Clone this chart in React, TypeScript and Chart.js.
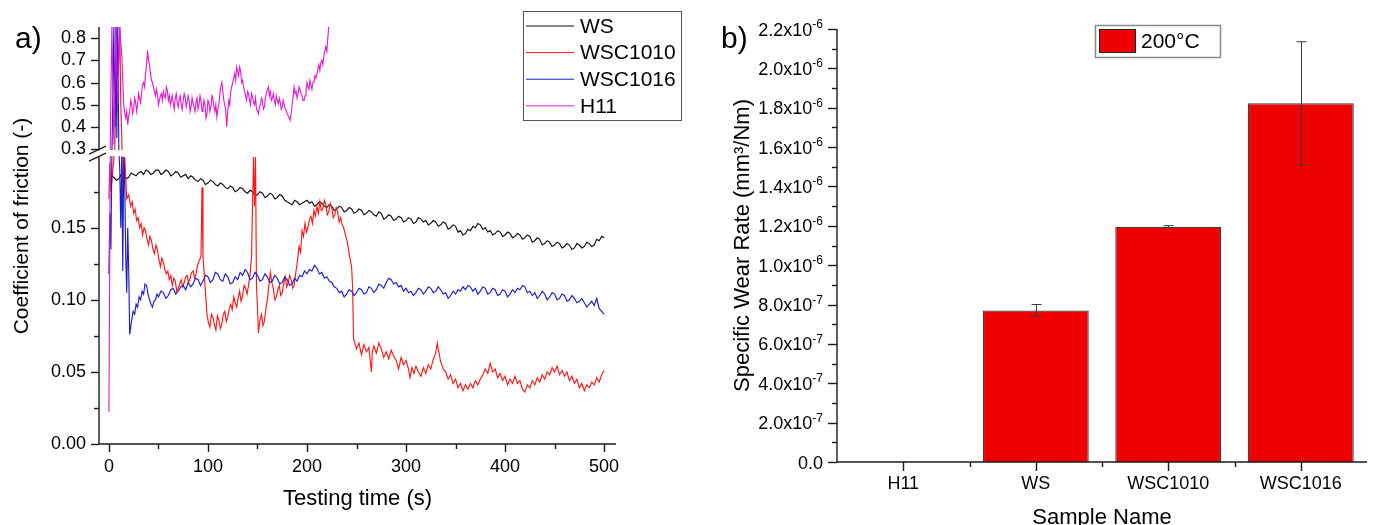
import React, { useEffect, useRef } from 'react';
import { Chart, LinearScale, registerables } from 'chart.js';

Chart.register(...registerables);

const FONT = '"Liberation Sans", Arial, sans-serif';

// ---------- Left chart data: [testing time (s), coefficient of friction] ----------
const WS: [number, number][] = [[0,0.183],[2.5,0.186],[5,0.185],[7.5,0.183],[10,0.184],[12.5,0.187],[15,0.186],[17.5,0.184],[20,0.185],[22.5,0.188],[25,0.187],[27.5,0.186],[30,0.188],[32.5,0.189],[35,0.187],[37.5,0.19],[40,0.189],[42.5,0.187],[45,0.188],[47.5,0.19],[50,0.19],[52.5,0.187],[55,0.188],[57.5,0.19],[60,0.189],[62.5,0.186],[65,0.187],[67.5,0.189],[70,0.188],[72.5,0.185],[75,0.186],[77.5,0.187],[80,0.184],[82.5,0.186],[85,0.185],[87.5,0.183],[90,0.182],[92.5,0.184],[95,0.183],[97.5,0.18],[100,0.181],[102.5,0.183],[105,0.182],[107.5,0.18],[110,0.179],[112.5,0.181],[115,0.18],[117.5,0.178],[120,0.177],[122.5,0.179],[125,0.178],[127.5,0.175],[130,0.176],[132.5,0.178],[135,0.177],[137.5,0.175],[140,0.174],[142.5,0.176],[145,0.175],[147.5,0.172],[150,0.173],[152.5,0.175],[155,0.174],[157.5,0.171],[160,0.172],[162.5,0.174],[165,0.173],[167.5,0.17],[170,0.171],[172.5,0.173],[175,0.172],[177.5,0.169],[180,0.168],[182.5,0.167],[185,0.166],[187.5,0.169],[190,0.168],[192.5,0.166],[195,0.167],[197.5,0.168],[200,0.169],[202.5,0.167],[205,0.168],[207.5,0.165],[210,0.166],[212.5,0.168],[215,0.167],[217.5,0.165],[220,0.164],[222.5,0.166],[225,0.165],[227.5,0.162],[230,0.163],[232.5,0.165],[235,0.164],[237.5,0.161],[240,0.162],[242.5,0.164],[245,0.163],[247.5,0.16],[250,0.161],[252.5,0.163],[255,0.162],[257.5,0.159],[260,0.16],[262.5,0.162],[265,0.161],[267.5,0.159],[270,0.158],[272.5,0.161],[275,0.16],[277.5,0.156],[280,0.157],[282.5,0.159],[285,0.158],[287.5,0.155],[290,0.156],[292.5,0.158],[295,0.157],[297.5,0.154],[300,0.155],[302.5,0.157],[305,0.156],[307.5,0.153],[310,0.154],[312.5,0.157],[315,0.156],[317.5,0.154],[320,0.155],[322.5,0.152],[325,0.153],[327.5,0.155],[330,0.154],[332.5,0.151],[335,0.152],[337.5,0.154],[340,0.153],[342.5,0.149],[345,0.15],[347.5,0.152],[350,0.151],[352.5,0.147],[355,0.148],[357.5,0.145],[360,0.146],[362.5,0.149],[365,0.148],[367.5,0.151],[370,0.15],[372.5,0.153],[375,0.152],[377.5,0.149],[380,0.15],[382.5,0.147],[385,0.148],[387.5,0.145],[390,0.146],[392.5,0.148],[395,0.147],[397.5,0.144],[400,0.145],[402.5,0.147],[405,0.146],[407.5,0.143],[410,0.144],[412.5,0.146],[415,0.145],[417.5,0.142],[420,0.143],[422.5,0.145],[425,0.144],[427.5,0.14],[430,0.141],[432.5,0.143],[435,0.142],[437.5,0.138],[440,0.139],[442.5,0.141],[445,0.14],[447.5,0.137],[450,0.138],[452.5,0.14],[455,0.139],[457.5,0.136],[460,0.137],[462.5,0.139],[465,0.138],[467.5,0.135],[470,0.136],[472.5,0.139],[475,0.138],[477.5,0.136],[480,0.137],[482.5,0.14],[485,0.139],[487.5,0.137],[490,0.138],[492.5,0.142],[495,0.141],[497.5,0.144],[500,0.143]];

const WSC1010: [number, number][] = [[0,0.17],[1,0.195],[2,0.175],[4,0.19],[6,0.3],[8,0.85],[9,0.6],[11,0.85],[12,0.5],[13,0.35],[14,0.17],[16,0.199],[18,0.17],[20,0.173],[22,0.165],[23.5,0.168],[25,0.16],[26.5,0.163],[28,0.155],[29.5,0.157],[31,0.15],[32.5,0.153],[34,0.145],[35.5,0.15],[37,0.148],[38.5,0.142],[40,0.138],[41.5,0.144],[43,0.141],[44.5,0.135],[46,0.132],[47.5,0.138],[49,0.135],[50.5,0.128],[52,0.123],[53.5,0.129],[55,0.126],[56.5,0.121],[58,0.118],[59.5,0.12],[61,0.114],[62.5,0.117],[64,0.11],[65.5,0.115],[67,0.113],[68.5,0.106],[70,0.108],[71.5,0.111],[73,0.114],[74.5,0.109],[76,0.112],[77.5,0.116],[79,0.117],[80.5,0.112],[82,0.115],[83.5,0.119],[85,0.12],[86.5,0.115],[88,0.118],[89.5,0.124],[91,0.127],[93,0.13],[94,0.178],[95,0.13],[97,0.11],[99,0.09],[100.5,0.084],[102,0.081],[103.5,0.09],[105,0.088],[106.5,0.083],[108,0.079],[109.5,0.089],[111,0.086],[112.5,0.08],[114,0.083],[115.5,0.09],[117,0.092],[118.5,0.085],[120,0.088],[121.5,0.094],[123,0.097],[124.5,0.093],[126,0.102],[127.5,0.098],[129,0.095],[130.5,0.101],[132,0.106],[133.5,0.099],[135,0.103],[136.5,0.11],[138,0.108],[139.5,0.104],[141,0.11],[142.5,0.118],[144,0.13],[146,0.199],[147,0.165],[148,0.199],[149,0.11],[151,0.077],[152.5,0.086],[154,0.09],[155.5,0.082],[157,0.085],[158.5,0.094],[160,0.1],[161.5,0.11],[163,0.119],[164.5,0.112],[166,0.108],[167.5,0.1],[169,0.102],[170.5,0.107],[172,0.11],[173.5,0.103],[175,0.105],[176.5,0.111],[178,0.116],[179.5,0.109],[181,0.112],[182.5,0.117],[184,0.114],[185.5,0.108],[187,0.11],[188.5,0.118],[190,0.125],[192,0.137],[193.5,0.133],[195,0.148],[196.5,0.144],[198,0.153],[199.5,0.147],[201,0.15],[202.5,0.156],[204,0.158],[205.5,0.153],[207,0.162],[208.5,0.158],[210,0.165],[211.5,0.16],[213,0.168],[214.5,0.162],[216,0.163],[217.5,0.169],[219,0.166],[220.5,0.159],[222,0.161],[223.5,0.167],[225,0.164],[226.5,0.157],[228,0.159],[229.5,0.164],[231,0.161],[232.5,0.154],[234,0.157],[235.5,0.152],[237,0.15],[238.5,0.146],[240,0.142],[241.5,0.137],[243,0.13],[245,0.123],[246,0.11],[247,0.073],[250,0.066],[252.5,0.07],[255,0.062],[257.5,0.069],[260,0.064],[262.5,0.067],[265,0.05],[266,0.064],[267.5,0.068],[270,0.063],[272.5,0.07],[275,0.066],[277.5,0.06],[280,0.064],[282.5,0.059],[285,0.065],[287.5,0.061],[290,0.058],[292.5,0.052],[295,0.06],[297.5,0.055],[300,0.058],[302.5,0.052],[304,0.046],[306,0.053],[308,0.049],[310,0.054],[312.5,0.05],[315,0.047],[317.5,0.053],[320,0.049],[322.5,0.055],[325,0.052],[327.5,0.059],[330,0.063],[331.5,0.07],[333,0.064],[335,0.057],[337.5,0.052],[340,0.05],[342.5,0.045],[345,0.048],[347.5,0.042],[350,0.045],[352.5,0.039],[355,0.042],[357.5,0.037],[360,0.041],[362.5,0.038],[365,0.042],[367.5,0.039],[370,0.044],[372.5,0.041],[375,0.045],[377.5,0.048],[380,0.052],[382.5,0.049],[385,0.056],[387.5,0.05],[390,0.052],[392.5,0.046],[395,0.049],[397.5,0.044],[400,0.047],[402.5,0.041],[405,0.045],[407.5,0.042],[410,0.047],[412.5,0.042],[415,0.044],[417.5,0.038],[420,0.036],[422.5,0.041],[425,0.039],[427.5,0.044],[430,0.041],[432.5,0.046],[435,0.043],[437.5,0.048],[440,0.045],[442.5,0.05],[445,0.048],[447.5,0.053],[450,0.05],[452.5,0.054],[455,0.048],[457.5,0.051],[460,0.047],[462.5,0.05],[465,0.044],[467.5,0.047],[470,0.042],[472.5,0.045],[475,0.039],[477.5,0.042],[480,0.037],[482.5,0.041],[485,0.039],[487.5,0.043],[490,0.041],[492.5,0.046],[495,0.043],[497.5,0.048],[500,0.051]];

const WSC1016: [number, number][] = [[0,0.118],[1,0.16],[2,0.135],[3,0.199],[5,0.85],[6,0.4],[7,0.85],[8,0.35],[9,0.85],[10,0.3],[11,0.19],[12,0.15],[13,0.199],[14,0.12],[15,0.199],[16,0.18],[17,0.13],[18,0.105],[19,0.15],[20,0.12],[21,0.076],[23,0.086],[24.5,0.092],[26,0.09],[27.5,0.097],[29,0.095],[30.5,0.102],[32,0.1],[33.5,0.106],[35,0.104],[36.5,0.111],[38,0.11],[39.5,0.104],[41,0.1],[42.5,0.097],[44,0.095],[45.5,0.099],[47,0.1],[48.5,0.104],[50,0.102],[52.5,0.106],[55,0.105],[57.5,0.101],[60,0.103],[62.5,0.107],[65,0.108],[67.5,0.104],[70,0.106],[72.5,0.109],[75,0.11],[77.5,0.107],[80,0.112],[82.5,0.109],[85,0.111],[87.5,0.115],[90,0.114],[92.5,0.11],[95,0.113],[97.5,0.117],[100,0.116],[102.5,0.112],[105,0.114],[107.5,0.119],[110,0.118],[112.5,0.114],[115,0.113],[117.5,0.118],[120,0.116],[122.5,0.111],[125,0.112],[127.5,0.116],[130,0.114],[132.5,0.119],[135,0.117],[137.5,0.121],[140,0.119],[142.5,0.114],[145,0.115],[147.5,0.119],[150,0.117],[152.5,0.113],[155,0.114],[157.5,0.118],[160,0.116],[162.5,0.112],[165,0.113],[167.5,0.117],[170,0.115],[172.5,0.111],[175,0.112],[177.5,0.116],[180,0.114],[182.5,0.11],[185,0.111],[187.5,0.115],[190,0.113],[192.5,0.117],[195,0.116],[197.5,0.12],[200,0.118],[202.5,0.121],[205,0.12],[207.5,0.124],[210,0.122],[212.5,0.118],[215,0.119],[217.5,0.115],[220,0.116],[222.5,0.113],[225,0.112],[227.5,0.109],[230,0.108],[232.5,0.105],[235,0.106],[237.5,0.102],[240,0.104],[242.5,0.107],[245,0.106],[247.5,0.103],[250,0.105],[252.5,0.108],[255,0.107],[257.5,0.104],[260,0.105],[262.5,0.109],[265,0.108],[267.5,0.105],[270,0.107],[272.5,0.111],[275,0.11],[277.5,0.108],[280,0.112],[282.5,0.115],[285,0.114],[287.5,0.111],[290,0.112],[292.5,0.109],[295,0.11],[297.5,0.106],[300,0.108],[302.5,0.105],[305,0.106],[307.5,0.103],[310,0.105],[312.5,0.108],[315,0.107],[317.5,0.104],[320,0.106],[322.5,0.109],[325,0.108],[327.5,0.105],[330,0.106],[332.5,0.109],[335,0.107],[337.5,0.104],[340,0.105],[342.5,0.101],[345,0.103],[347.5,0.106],[350,0.104],[352.5,0.107],[355,0.106],[357.5,0.109],[360,0.107],[362.5,0.11],[365,0.109],[367.5,0.106],[370,0.108],[372.5,0.104],[375,0.106],[377.5,0.109],[380,0.108],[382.5,0.104],[385,0.105],[387.5,0.108],[390,0.107],[392.5,0.103],[395,0.104],[397.5,0.107],[400,0.106],[402.5,0.102],[405,0.104],[407.5,0.107],[410,0.105],[412.5,0.108],[415,0.107],[417.5,0.11],[420,0.109],[422.5,0.105],[425,0.106],[427.5,0.103],[430,0.105],[432.5,0.101],[435,0.103],[437.5,0.106],[440,0.104],[442.5,0.1],[445,0.102],[447.5,0.105],[450,0.104],[452.5,0.1],[455,0.101],[457.5,0.104],[460,0.103],[462.5,0.099],[465,0.1],[467.5,0.103],[470,0.101],[472.5,0.098],[475,0.099],[477.5,0.101],[480,0.098],[482.5,0.095],[485,0.097],[487.5,0.099],[490,0.096],[492.5,0.101],[495,0.094],[497.5,0.092],[500,0.09]];

const H11: [number, number][] = [[0,0.022],[1.5,0.4],[3,0.85],[5,0.32],[7,0.85],[9,0.5],[11,0.85],[13,0.72],[15,0.5],[16,0.46],[17,0.44],[18,0.47],[19,0.41],[20,0.45],[21,0.47],[22,0.52],[23,0.5],[24,0.46],[25,0.48],[26,0.53],[27,0.51],[28,0.47],[29,0.5],[30,0.55],[31,0.53],[32,0.51],[33,0.55],[34,0.59],[35,0.6],[36,0.58],[37,0.64],[38,0.68],[39,0.745],[40,0.7],[41,0.68],[42,0.64],[43,0.61],[44,0.6],[45,0.58],[46,0.56],[47,0.54],[48,0.57],[49,0.545],[50,0.5],[51,0.52],[52,0.54],[53,0.55],[54,0.52],[55,0.56],[56,0.54],[57,0.53],[58,0.58],[59,0.565],[60,0.52],[61,0.54],[62,0.5],[63,0.52],[64,0.54],[65,0.505],[66,0.48],[67,0.53],[68,0.55],[69,0.51],[70,0.49],[71,0.525],[72,0.54],[73,0.5],[74,0.48],[75,0.52],[76,0.55],[77,0.535],[78,0.49],[79,0.51],[80,0.54],[81,0.52],[82,0.47],[83,0.49],[84,0.53],[85,0.505],[86,0.49],[87,0.47],[88,0.51],[89,0.53],[90,0.48],[91,0.5],[92,0.54],[93,0.52],[94,0.47],[95,0.48],[96,0.52],[97,0.5],[98,0.44],[99,0.46],[100,0.52],[101,0.51],[102,0.47],[103,0.49],[104,0.54],[105,0.53],[106,0.49],[107,0.47],[108,0.5],[109,0.445],[110,0.48],[111,0.5],[112,0.55],[113,0.58],[114,0.6],[115,0.56],[116,0.52],[117,0.5],[118,0.47],[119,0.4],[120,0.47],[121,0.52],[122,0.5],[123,0.56],[124,0.58],[125,0.6],[126,0.62],[127,0.64],[128,0.61],[129,0.67],[130,0.65],[131,0.63],[132,0.67],[133,0.65],[134,0.6],[135,0.61],[136,0.58],[137,0.56],[138,0.54],[139,0.52],[140,0.56],[141,0.55],[142,0.52],[143,0.5],[144,0.55],[145,0.535],[146,0.51],[147,0.5],[148,0.53],[149,0.48],[150,0.47],[151,0.46],[152,0.49],[153,0.5],[154,0.53],[155,0.52],[156,0.48],[157,0.49],[158,0.53],[159,0.55],[160,0.57],[161,0.58],[162,0.54],[163,0.56],[164,0.52],[165,0.53],[166,0.55],[167,0.52],[168,0.5],[169,0.54],[170,0.52],[171,0.505],[172,0.53],[173,0.51],[174,0.48],[175,0.49],[176,0.52],[177,0.5],[178,0.48],[179,0.475],[180,0.46],[181,0.45],[182,0.44],[183,0.43],[184,0.46],[185,0.5],[186,0.54],[187,0.58],[188,0.55],[189,0.56],[190,0.53],[191,0.55],[192,0.58],[193,0.57],[194,0.55],[195,0.54],[196,0.52],[197,0.52],[198,0.54],[199,0.56],[200,0.6],[201,0.58],[202,0.57],[203,0.61],[204,0.59],[205,0.57],[206,0.6],[207,0.6],[208,0.63],[209,0.62],[210,0.64],[211,0.66],[212,0.68],[213,0.655],[214,0.69],[215,0.7],[216,0.68],[217,0.72],[218,0.74],[219,0.76],[220,0.74],[221,0.8],[222,0.85]];

const SERIES_LABELS = ['WS', 'WSC1010', 'WSC1016', 'H11'];
const SERIES_COLORS = ['#111111', '#ff1a1a', '#1c1ccc', '#e020d0'];
const SERIES_DATA = [WS, WSC1010, WSC1016, H11];

const X_TICKS = [0, 100, 200, 300, 400, 500];
const X_MINOR = [50, 150, 250, 350, 450];
const LEFT_Y_TICKS = [0, 0.05, 0.1, 0.15, 0.3, 0.4, 0.5, 0.6, 0.7, 0.8];
const LEFT_Y_MINOR = [0.025, 0.075, 0.125, 0.175];

// broken axis definition
const LOW_MAX = 0.199;
const HIGH_MIN = 0.3;
const Y_MAX = 0.85;
const LOW_FRAC = 0.688;
const GAP_FRAC = 0.019;

// ---------- Right chart data ----------
const CATEGORIES = ['H11', 'WS', 'WSC1010', 'WSC1016'];
const WEAR_RATE = [0, 7.7e-7, 1.195e-6, 1.8225e-6];
const WEAR_ERR = [0, 3.0e-8, 6e-9, 3.125e-7];
const RIGHT_Y_TICKS = [0, 2e-7, 4e-7, 6e-7, 8e-7, 1e-6, 1.2e-6, 1.4e-6, 1.6e-6, 1.8e-6, 2e-6, 2.2e-6];
const RIGHT_Y_MANT = ['0.0', '2.0', '4.0', '6.0', '8.0', '1.0', '1.2', '1.4', '1.6', '1.8', '2.0', '2.2'];
const RIGHT_Y_EXP = ['', '-7', '-7', '-7', '-7', '-6', '-6', '-6', '-6', '-6', '-6', '-6'];
const RIGHT_Y_MINOR = [1e-7, 3e-7, 5e-7, 7e-7, 9e-7, 1.1e-6, 1.3e-6, 1.5e-6, 1.7e-6, 1.9e-6, 2.1e-6];
const BAR_LABEL = '200°C';

class BrokenLinearScale extends LinearScale {
  static id = 'brokenLinear';
  static defaults = LinearScale.defaults;
  buildTicks() {
    return LEFT_Y_TICKS.map((v) => ({ value: v }));
  }
  _brk() {
    const b = this.bottom;
    const t = this.top;
    const h = b - t;
    const lowTop = b - h * LOW_FRAC;
    const highBot = lowTop - h * GAP_FRAC;
    return { b, t, lowTop, highBot };
  }
  getPixelForValue(value: number) {
    if (value === null || value === undefined || isNaN(value)) return NaN;
    const { b, t, lowTop, highBot } = this._brk();
    if (value <= LOW_MAX) return b - (value / LOW_MAX) * (b - lowTop);
    if (value < HIGH_MIN) return lowTop - ((value - LOW_MAX) / (HIGH_MIN - LOW_MAX)) * (lowTop - highBot);
    return highBot - ((value - HIGH_MIN) / (Y_MAX - HIGH_MIN)) * (highBot - t);
  }
  getValueForPixel(p: number) {
    const { b, t, lowTop, highBot } = this._brk();
    if (p >= lowTop) return ((b - p) / (b - lowTop)) * LOW_MAX;
    if (p >= highBot) return LOW_MAX + ((lowTop - p) / (lowTop - highBot)) * (HIGH_MIN - LOW_MAX);
    return HIGH_MIN + ((highBot - p) / (highBot - t)) * (Y_MAX - HIGH_MIN);
  }
}
Chart.register(BrokenLinearScale as any);

function line(ctx: CanvasRenderingContext2D, x1: number, y1: number, x2: number, y2: number) {
  ctx.beginPath();
  ctx.moveTo(x1, y1);
  ctx.lineTo(x2, y2);
  ctx.stroke();
}

const leftDecor = {
  id: 'leftDecor',
  afterDraw(chart: any) {
    const { ctx, chartArea: ca, scales } = chart;
    const x = scales.x;
    const y = scales.y;
    const lowTop = y.getPixelForValue(LOW_MAX);
    const highBot = y.getPixelForValue(HIGH_MIN);
    ctx.save();
    // gap band
    ctx.fillStyle = '#ffffff';
    ctx.fillRect(ca.left - 12, highBot + 1, ca.right - ca.left + 14, lowTop - highBot - 2);
    ctx.strokeStyle = '#1a1a1a';
    ctx.lineWidth = 1.4;
    // axes
    line(ctx, ca.left, ca.top, ca.left, highBot + 1);
    line(ctx, ca.left, lowTop, ca.left, ca.bottom);
    line(ctx, ca.left, ca.bottom, ca.right, ca.bottom);
    // y ticks
    LEFT_Y_TICKS.forEach((v) => {
      const py = Math.round(y.getPixelForValue(v)) + 0.5;
      line(ctx, ca.left - 8, py, ca.left, py);
    });
    LEFT_Y_MINOR.forEach((v) => {
      const py = Math.round(y.getPixelForValue(v)) + 0.5;
      line(ctx, ca.left - 5, py, ca.left, py);
    });
    // x ticks
    X_TICKS.forEach((v) => {
      const px = Math.round(x.getPixelForValue(v)) + 0.5;
      line(ctx, px, ca.bottom, px, ca.bottom + 8);
    });
    X_MINOR.forEach((v) => {
      const px = Math.round(x.getPixelForValue(v)) + 0.5;
      line(ctx, px, ca.bottom, px, ca.bottom + 5);
    });
    // break marks
    ctx.lineWidth = 1.3;
    line(ctx, ca.left - 10, highBot + 5, ca.left + 7, highBot - 3);
    line(ctx, ca.left - 10, lowTop + 4, ca.left + 7, lowTop - 4);
    // legend
    ctx.lineWidth = 1;
    ctx.strokeStyle = '#555';
    ctx.strokeRect(523.5, 11.5, 158, 109);
    ctx.font = `21px ${FONT}`;
    ctx.textBaseline = 'middle';
    ctx.textAlign = 'left';
    SERIES_LABELS.forEach((lab, i) => {
      const ly = 26 + i * 26.6;
      ctx.strokeStyle = SERIES_COLORS[i];
      ctx.lineWidth = 1;
      line(ctx, 526, ly, 574, ly);
      ctx.fillStyle = '#000';
      ctx.fillText(lab, 580, ly + 1);
    });
    // titles
    ctx.fillStyle = '#000';
    ctx.font = `22px ${FONT}`;
    ctx.textAlign = 'center';
    ctx.textBaseline = 'alphabetic';
    ctx.fillText('Testing time (s)', (ca.left + ca.right) / 2, 505);
    ctx.save();
    ctx.font = `21px ${FONT}`;
    ctx.translate(22, 226);
    ctx.rotate(-Math.PI / 2);
    ctx.textBaseline = 'middle';
    ctx.fillText('Coefficient of friction (-)', 0, 0);
    ctx.restore();
    ctx.font = `30px ${FONT}`;
    ctx.textAlign = 'left';
    ctx.textBaseline = 'alphabetic';
    ctx.fillText('a)', 15, 48);
    ctx.restore();
  },
};

const rightDecor = {
  id: 'rightDecor',
  afterDraw(chart: any) {
    const { ctx, chartArea: ca, scales } = chart;
    const x = scales.x;
    const y = scales.y;
    ctx.save();
    // error bars
    ctx.strokeStyle = '#3a3a3a';
    ctx.lineWidth = 1;
    WEAR_RATE.forEach((v, i) => {
      const e = WEAR_ERR[i];
      if (!e) return;
      const px = Math.round(x.getPixelForValue(i)) + 0.5;
      const yTop = y.getPixelForValue(v + e);
      const yBot = y.getPixelForValue(v - e);
      line(ctx, px, yTop, px, yBot);
      line(ctx, px - 5, yTop, px + 5, yTop);
      line(ctx, px - 5, yBot, px + 5, yBot);
    });
    // axes
    ctx.strokeStyle = '#1a1a1a';
    ctx.lineWidth = 1.4;
    line(ctx, ca.left, ca.top, ca.left, ca.bottom);
    line(ctx, ca.left, ca.bottom, ca.right, ca.bottom);
    RIGHT_Y_TICKS.forEach((v) => {
      const py = Math.round(y.getPixelForValue(v)) + 0.5;
      line(ctx, ca.left - 9, py, ca.left, py);
    });
    RIGHT_Y_MINOR.forEach((v) => {
      const py = Math.round(y.getPixelForValue(v)) + 0.5;
      line(ctx, ca.left - 5, py, ca.left, py);
    });
    CATEGORIES.forEach((c, i) => {
      const px = Math.round(x.getPixelForValue(i)) + 0.5;
      line(ctx, px, ca.bottom, px, ca.bottom + 9);
      if (i > 0) {
        const pm = Math.round((x.getPixelForValue(i) + x.getPixelForValue(i - 1)) / 2) + 0.5;
        line(ctx, pm, ca.bottom, pm, ca.bottom + 5);
      }
    });
    // y labels with superscripts
    ctx.fillStyle = '#000';
    const R = ca.left - 14;
    RIGHT_Y_TICKS.forEach((v, i) => {
      const py = y.getPixelForValue(v);
      const exp = RIGHT_Y_EXP[i];
      ctx.textAlign = 'right';
      ctx.textBaseline = 'alphabetic';
      let wSup = 0;
      if (exp) {
        ctx.font = `12px ${FONT}`;
        wSup = ctx.measureText(exp).width;
        ctx.fillText(exp, R, py - 1);
      }
      ctx.font = `18px ${FONT}`;
      ctx.fillText(RIGHT_Y_MANT[i] + (exp ? 'x10' : ''), R - wSup, py + 6.5);
    });
    // legend
    ctx.strokeStyle = '#8a8a8a';
    ctx.lineWidth = 1.5;
    ctx.strokeRect(405.5, 25.5, 125, 32);
    ctx.fillStyle = '#ee0000';
    ctx.fillRect(409, 29, 37, 24);
    ctx.strokeStyle = '#222';
    ctx.lineWidth = 1;
    ctx.strokeRect(409.5, 29.5, 36, 23);
    ctx.fillStyle = '#000';
    ctx.font = `21px ${FONT}`;
    ctx.textAlign = 'left';
    ctx.textBaseline = 'middle';
    ctx.fillText(BAR_LABEL, 451, 42);
    // titles
    ctx.textAlign = 'center';
    ctx.font = `22px ${FONT}`;
    ctx.textBaseline = 'alphabetic';
    ctx.fillText('Sample Name', (ca.left + ca.right) / 2, 524);
    ctx.save();
    ctx.translate(53, (ca.top + ca.bottom) / 2);
    ctx.rotate(-Math.PI / 2);
    ctx.textBaseline = 'middle';
    ctx.fillText('Specific Wear Rate (mm³/Nm)', 0, 0);
    ctx.restore();
    ctx.font = `30px ${FONT}`;
    ctx.textAlign = 'left';
    ctx.fillText('b)', 31, 48);
    ctx.restore();
  },
};

export default function App() {
  const leftRef = useRef<HTMLCanvasElement>(null);
  const rightRef = useRef<HTMLCanvasElement>(null);

  useEffect(() => {
    const tickFont = { family: FONT, size: 18 };
    const left = new Chart(leftRef.current as HTMLCanvasElement, {
      type: 'line',
      data: {
        datasets: SERIES_DATA.map((d, i) => ({
          label: SERIES_LABELS[i],
          data: d as any,
          borderColor: SERIES_COLORS[i],
          borderWidth: 1.15,
          pointRadius: 0,
          tension: 0,
          fill: false,
          order: SERIES_DATA.length - i,
        })),
      },
      options: {
        animation: false,
        responsive: false,
        layout: { padding: { top: 27, right: 74, left: 0, bottom: 0 } },
        plugins: { legend: { display: false }, tooltip: { enabled: false } },
        scales: {
          x: {
            type: 'linear',
            min: -10,
            max: 512,
            afterBuildTicks: (s: any) => {
              s.ticks = X_TICKS.map((v) => ({ value: v }));
            },
            ticks: { autoSkip: false, maxRotation: 0, font: tickFont, color: '#000', padding: 4, callback: (v: any) => String(v) },
            grid: { display: false, drawTicks: true, tickLength: 8 },
            border: { display: false },
            afterFit: (s: any) => {
              s.height = 81;
            },
          },
          y: {
            type: 'brokenLinear' as any,
            min: 0,
            max: Y_MAX,
            ticks: {
              autoSkip: false,
              font: tickFont,
              color: '#000',
              padding: 5,
              callback: (v: any) => (v < 0.25 ? Number(v).toFixed(2) : Number(v).toFixed(1)),
            },
            grid: { display: false, drawTicks: true, tickLength: 8 },
            border: { display: false },
            afterFit: (s: any) => {
              s.width = 99;
            },
          } as any,
        },
      },
      plugins: [leftDecor],
    });

    const right = new Chart(rightRef.current as HTMLCanvasElement, {
      type: 'bar',
      data: {
        labels: CATEGORIES,
        datasets: [
          {
            label: BAR_LABEL,
            data: WEAR_RATE,
            backgroundColor: '#ee0000',
            borderColor: '#404040',
            borderWidth: 1.3,
            categoryPercentage: 1,
            barPercentage: 0.8,
          },
        ],
      },
      options: {
        animation: false,
        responsive: false,
        layout: { padding: { top: 29, right: 11, left: 0, bottom: 0 } },
        plugins: { legend: { display: false }, tooltip: { enabled: false } },
        scales: {
          x: {
            type: 'category',
            offset: true,
            ticks: { autoSkip: false, maxRotation: 0, font: { family: FONT, size: 18 }, color: '#000', padding: 2 },
            grid: { display: false, drawTicks: true, tickLength: 9 },
            border: { display: false },
            afterFit: (s: any) => {
              s.height = 63;
            },
          },
          y: {
            type: 'linear',
            min: 0,
            max: 2.2e-6,
            ticks: { display: false },
            grid: { display: false },
            border: { display: false },
            afterFit: (s: any) => {
              s.width = 147;
            },
          },
        },
      },
      plugins: [rightDecor],
    });

    return () => {
      left.destroy();
      right.destroy();
    };
  }, []);

  return (
    <div style={{ position: 'fixed', left: 0, top: 0, width: 1378, height: 525, background: '#ffffff' }}>
      <canvas ref={leftRef} width={690} height={525} style={{ position: 'absolute', left: 0, top: 0, width: 690, height: 525 }} />
      <canvas ref={rightRef} width={688} height={525} style={{ position: 'absolute', left: 690, top: 0, width: 688, height: 525 }} />
    </div>
  );
}
